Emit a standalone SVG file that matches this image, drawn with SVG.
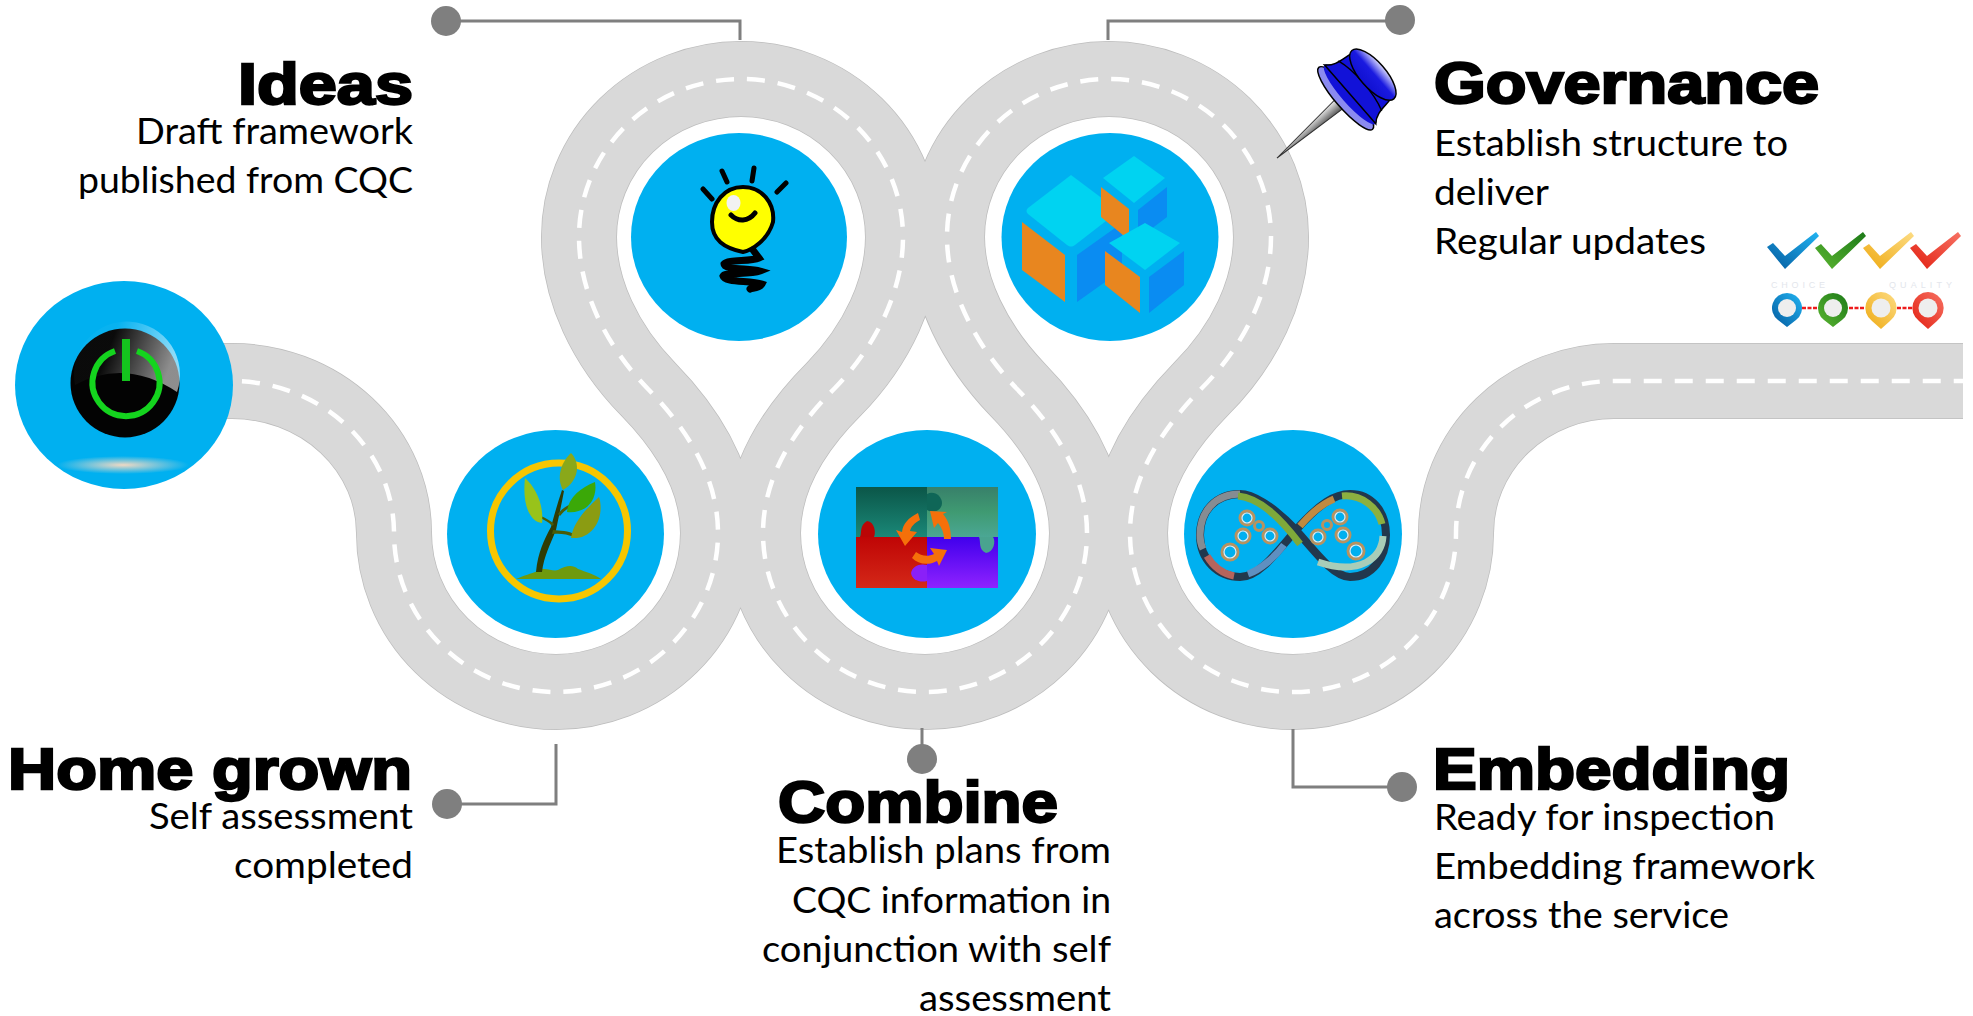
<svg xmlns="http://www.w3.org/2000/svg" width="1973" height="1016" viewBox="0 0 1973 1016">
<style>
.rd{fill:none;stroke-linejoin:round}
.blue{fill:#00b0f0}
.h{font-family:"Liberation Sans",Arial,sans-serif;font-weight:700;font-size:57px;fill:#000;stroke:#000;stroke-width:2.4px}
.b{font-family:Lato,"Noto Sans",sans-serif;font-size:37px;fill:#000}
.cn{fill:none;stroke:#7f7f7f;stroke-width:3}
.dot{fill:#7f7f7f}
.cap{font-family:"Liberation Sans",Arial,sans-serif;font-size:9px;fill:#e3e6ec}
.ray{fill:none;stroke:#000;stroke-linecap:round}
.arw{fill:#f5700a}
.gear{fill:none;stroke:#b8925f;stroke-width:3}
.gearin{fill:none;stroke:#e6ebf0;stroke-width:1.2}
.inner{fill:#eeeeee}
.pd{fill:none;stroke:#ee1c1c;stroke-width:2.5;stroke-dasharray:4 1.5}
</style>
<defs>
<radialGradient id="glow"><stop offset="0" stop-color="#f0d9c4"/><stop offset="1" stop-color="#f0d9c4" stop-opacity="0"/></radialGradient>
<linearGradient id="gloss" x1="0" x2="1" y1="0" y2="0.25"><stop offset="0.4" stop-color="#fff" stop-opacity="0.03"/><stop offset="1" stop-color="#fff" stop-opacity="0.55"/></linearGradient>
<linearGradient id="pTL" x1="0" x2="0" y1="0" y2="1"><stop offset="0" stop-color="#0b5648"/><stop offset="1" stop-color="#1a8878"/></linearGradient>
<linearGradient id="pTR" x1="0" x2="0" y1="0" y2="1"><stop offset="0" stop-color="#38806a"/><stop offset="0.5" stop-color="#3f9a72"/><stop offset="1" stop-color="#4ba794"/></linearGradient>
<linearGradient id="pBL" x1="0" x2="0" y1="0" y2="1"><stop offset="0" stop-color="#bf0505"/><stop offset="1" stop-color="#d42818"/></linearGradient>
<linearGradient id="pBR" x1="0" x2="0" y1="0" y2="1"><stop offset="0" stop-color="#4000ec"/><stop offset="1" stop-color="#8f22ff"/></linearGradient>
<linearGradient id="capg" x1="0" x2="1" y1="0" y2="0"><stop offset="0" stop-color="#1010d0"/><stop offset="0.55" stop-color="#1a1ae0"/><stop offset="1" stop-color="#d8d8ff"/></linearGradient>
<linearGradient id="ck1" x1="0" x2="1" y1="1" y2="0"><stop offset="0" stop-color="#045a9e"/><stop offset="1" stop-color="#21b4f2"/></linearGradient>
<linearGradient id="ck2" x1="0" x2="1" y1="1" y2="0"><stop offset="0" stop-color="#5cb531"/><stop offset="1" stop-color="#1c7a18"/></linearGradient>
<linearGradient id="ck3" x1="0" x2="1" y1="1" y2="0"><stop offset="0" stop-color="#eea910"/><stop offset="1" stop-color="#fddc84"/></linearGradient>
<linearGradient id="ck4" x1="0" x2="1" y1="1" y2="0"><stop offset="0" stop-color="#e21f10"/><stop offset="1" stop-color="#f77264"/></linearGradient>
<linearGradient id="needle" x1="0" x2="0" y1="0" y2="1"><stop offset="0" stop-color="#eeeeee"/><stop offset="1" stop-color="#555"/></linearGradient>
<path id="roadpath" d="M180 381H232A162 152 0 0 1 394 533A162 159 0 0 0 718 533C718 480 690 432 648 389C605 345 579 290 579 237A162 158 0 0 1 903 237C903 290 877 345 834 389C791 432 763 480 763 533A162 159 0 0 0 1087 533C1087 480 1059 432 1017 389C975 345 947 290 947 237A162 158 0 0 1 1271 237C1271 290 1245 345 1201 389C1159 432 1130 480 1130 533A163 159 0 0 0 1456 533A158 152 0 0 1 1614 381H1963"/>
</defs>
<rect width="1973" height="1016" fill="#fff"/>

<g id="road">
<use href="#roadpath" class="rd" stroke="#bdbdbd" stroke-width="76"/>
<use href="#roadpath" class="rd" stroke="#d9d9d9" stroke-width="74.5"/>
<use href="#roadpath" class="rd" stroke="#fff" stroke-width="4.5" stroke-dasharray="18 13"/>
</g>

<g id="connectors">
<path class="cn" d="M446 21H740V40"/>
<path class="cn" d="M1400 21H1108V40"/>
<path class="cn" d="M447 804H556V744"/>
<path class="cn" d="M922 759V728"/>
<path class="cn" d="M1402 787H1293V729"/>
<ellipse class="dot" cx="446" cy="21" rx="15" ry="15"/>
<ellipse class="dot" cx="1400" cy="20" rx="15" ry="15"/>
<ellipse class="dot" cx="447" cy="804" rx="15" ry="15"/>
<ellipse class="dot" cx="922" cy="759" rx="15" ry="15"/>
<ellipse class="dot" cx="1402" cy="787" rx="15" ry="15"/>
</g>

<g id="node-start">
<ellipse class="blue" cx="124" cy="385" rx="109" ry="104"/>
<ellipse cx="123" cy="465" rx="66" ry="9" fill="url(#glow)"/>
<circle cx="125" cy="383" r="54.5" fill="#030303"/>
<path d="M75 385Q125 358 177 392A53 53 0 1 0 75 385Z" fill="url(#gloss)"/>
<path d="M115 351A33.5 33.5 0 1 0 137 351" fill="none" stroke="#14d41e" stroke-width="6"/>
<rect x="122" y="339" width="8" height="42" fill="#14c41e"/>
</g>

<g id="node-home-grown">
<ellipse class="blue" cx="555.5" cy="534" rx="108.5" ry="104"/>
<ellipse cx="559" cy="531" rx="68.5" ry="68" fill="none" stroke="#f7c600" stroke-width="7"/>
<path d="M516 579C525 575 530 574 538 571C544 566 552 572 558 570C566 566 572 564 578 569C586 572 594 574 601 579Z" fill="#6f9a0e"/>
<path d="M536 572C538 552 544 540 551 527C554 516 557 505 562 490L564 491C561 507 558 520 556 530C550 545 544 556 542 572Z" fill="#2f3c05"/>
<path d="M553 530C560 531 568 530 576 535L575 537C566 534 560 533 552 534ZM552 526C549 522 544 520 540 518L541 516C546 518 551 521 554 524ZM558 514C562 508 568 505 574 503L575 505C569 507 564 511 560 516Z" fill="#4a5c08"/>
<path d="M525 478C536 488 544 505 542 523C530 522 522 505 525 478Z" fill="#98c31a"/>
<path d="M571 453C580 462 580 480 563 490C556 478 561 462 571 453Z" fill="#8aa81a"/>
<path d="M595 482C598 500 586 514 567 512C568 498 580 488 595 482Z" fill="#3ba808"/>
<path d="M599 497C605 516 594 540 571 538C573 522 587 508 599 497Z" fill="#8b9c12"/>
</g>

<g id="node-ideas">
<ellipse class="blue" cx="739" cy="237" rx="108" ry="104"/>
<path d="M743 187C724 187 712 203 712 222C712 240 724 248 743 252C752 250 768 240 773 222C775 203 762 187 743 187Z" fill="#ffff00" stroke="#000" stroke-width="4"/>
<ellipse cx="733.5" cy="203" rx="7" ry="8" fill="#f2f2f2"/>
<path class="ray" stroke-width="5" d="M703 189L712 199M722 171L727 182M754 168L752 181M786 183L777 192M731 215C738 222 748 222 755 213"/>
<path class="ray" stroke-width="7" d="M753 250L759 258C750 262 728 259 724 264C724 270 750 268 760 271C750 275 725 272 723 276C725 283 750 280 762 284C760 288 752 288 750 289"/>
</g>

<g id="node-combine">
<ellipse class="blue" cx="927" cy="534" rx="109" ry="104"/>
<rect x="856" y="487" width="71" height="50" fill="url(#pTL)"/>
<rect x="927" y="487" width="71" height="50" fill="url(#pTR)"/>
<rect x="856" y="537" width="71" height="51" fill="url(#pBL)"/>
<rect x="927" y="537" width="71" height="51" fill="url(#pBR)"/>
<path d="M927 494C934 490 942 496 942 503C942 510 934 514 927 510Z" fill="#0f6657"/>
<path d="M860 537C862 533 859 526 867 521C875 522 876 533 874 537Z" fill="#ba0505"/>
<path d="M979 537C981 541 978 550 986 553C994 552 996 541 993 537Z" fill="#49a38f"/>
<path d="M927 565C920 563 912 566 911 573C912 580 920 583 927 581Z" fill="#8a20f8"/>
<path class="arw" d="M918 513C908 518 903 524 902 532L896 530L905 546L917 532L910 531C911 527 914 523 920 520Z"/>
<path class="arw" d="M951 539C951 530 949 521 943 514L947 512L930 511L934 528L938 523C942 528 944 533 944 539Z"/>
<path class="arw" d="M912 558C918 564 928 566 937 561L939 566L947 550L930 548L934 554C928 557 921 556 916 552Z"/>
</g>

<g id="node-governance">
<ellipse class="blue" cx="1110" cy="237" rx="108.5" ry="104"/>
<path fill="#00d3f1" d="M1071 175L1115 208Q1118 211 1115 214L1075 245Q1071 248 1067 245L1028 214Q1025 211 1028 208Z"/>
<path fill="#e8861f" d="M1022 222L1065 255V302L1022 270Z"/>
<path fill="#0a8cf2" d="M1077 255L1122 223V270L1077 302Z"/>
<path fill="#00d3f1" d="M1134 156L1165 178L1134 203L1103 178Z"/>
<path fill="#0a8cf2" d="M1138 210L1167 187V217L1138 239Z"/>
<path fill="#e8861f" d="M1101 187L1129 209V240L1101 217Z"/>
<path fill="#00d3f1" d="M1145 223L1180 243L1145 270L1109 243Z"/>
<path fill="#e8861f" d="M1105 251L1140 277V313L1105 285Z"/>
<path fill="#0a8cf2" d="M1149 277L1184 251V285L1149 313Z"/>
</g>

<g id="node-embedding">
<ellipse class="blue" cx="1293" cy="534" rx="109" ry="104"/>
<path fill="none" stroke="#22384d" stroke-width="8" d="M1296 530C1272 505 1252 494 1240 494C1215 494 1200 512 1200 535C1200 560 1218 577 1240 577C1258 577 1275 555 1296 530C1320 503 1335 494 1350 494C1372 494 1386 512 1386 535C1386 558 1372 577 1350 577C1335 577 1320 558 1296 530Z"/>
<g fill="none" stroke-width="7">
<path stroke="#868c92" d="M1240 494C1215 494 1200 512 1200 535C1200 540 1201 545 1203 549"/>
<path stroke="#b5645c" d="M1207 556C1214 568 1224 574 1234 576"/>
<path stroke="#5f8fc0" d="M1248 574C1260 570 1275 557 1284 545"/>
<path stroke="#c08a40" d="M1300 526C1312 512 1324 503 1334 499"/>
<path stroke="#8cb040" d="M1342 496C1362 494 1378 508 1382 524"/>
<path stroke="#a8cdb8" d="M1383 536C1382 558 1360 576 1318 562"/>
<path stroke="#7fa93a" d="M1238 496C1260 498 1280 518 1300 544"/>
</g>
<g class="gear"><circle cx="1247" cy="518" r="7"/><circle cx="1259" cy="526" r="4.5"/><circle cx="1243" cy="536" r="7"/><circle cx="1270" cy="536" r="7"/><circle cx="1230" cy="552" r="8"/><circle cx="1340" cy="517" r="7"/><circle cx="1327" cy="525" r="4.5"/><circle cx="1343" cy="535" r="7"/><circle cx="1318" cy="537" r="7"/><circle cx="1356" cy="551" r="8"/></g>
<g class="gearin"><circle cx="1247" cy="518" r="5"/><circle cx="1243" cy="536" r="5"/><circle cx="1270" cy="536" r="5"/><circle cx="1230" cy="552" r="6"/><circle cx="1340" cy="517" r="5"/><circle cx="1343" cy="535" r="5"/><circle cx="1318" cy="537" r="5"/><circle cx="1356" cy="551" r="6"/></g>
</g>

<g id="pushpin" transform="translate(1277 158) rotate(-41)">
<path d="M0 0L82 -6V6Z" fill="url(#needle)" stroke="#333" stroke-width="1"/>
<ellipse cx="91" cy="0" rx="10" ry="41" fill="#8a8af0" stroke="#000" stroke-width="1.5"/>
<ellipse cx="97" cy="0" rx="9" ry="39" fill="#1212d8"/>
<path d="M97 -39C104 -31 114 -32 125 -30V30C114 32 104 31 97 39Z" fill="#1212d8" stroke="#000" stroke-width="1.5"/>
<path d="M110 -33C116 -15 116 15 110 33" fill="none" stroke="#000" stroke-width="1.5"/>
<ellipse cx="127" cy="0" rx="13" ry="32" fill="url(#capg)" stroke="#000" stroke-width="1.5"/>
</g>

<g id="quality-marks">
<path fill="url(#ck1)" d="M1767 247L1773 243L1785 256L1816 232L1819 236L1785 269Z"/>
<path fill="url(#ck2)" d="M1815 248L1821 244L1832 256L1863 232L1866 236L1832 269Z"/>
<path fill="url(#ck3)" d="M1863 248L1869 244L1880 256L1911 232L1914 236L1880 269Z"/>
<path fill="url(#ck4)" d="M1910 248L1916 244L1927 256L1958 232L1961 236L1927 269Z"/>
<text class="cap" x="1771" y="288" textLength="54">CHOICE</text>
<text class="cap" x="1889" y="288" textLength="63">QUALITY</text>
<path class="pd" d="M1802 308H1818M1849 308H1865M1897 308H1912"/>
<path fill="url(#ck1)" d="M1787 293A15 15 0 0 1 1796 320L1787 327L1778 320A15 15 0 0 1 1787 293Z"/>
<path fill="url(#ck2)" d="M1833 293A15 15 0 0 1 1842 320L1833 327L1824 320A15 15 0 0 1 1833 293Z"/>
<path fill="url(#ck3)" d="M1881 292A16 16 0 0 1 1890 321L1881 329L1872 321A16 16 0 0 1 1881 292Z"/>
<path fill="url(#ck4)" d="M1928 292A16 16 0 0 1 1937 321L1928 329L1919 321A16 16 0 0 1 1928 292Z"/>
<circle class="inner" cx="1787" cy="308" r="9"/><circle class="inner" cx="1833" cy="308" r="9"/><circle class="inner" cx="1881" cy="308" r="9.5"/><circle class="inner" cx="1928" cy="308" r="9.5"/>
</g>

<g id="label-ideas">
<text class="h" x="238" y="104" textLength="175" lengthAdjust="spacingAndGlyphs">Ideas</text>
<text class="b" x="136" y="144" textLength="277" lengthAdjust="spacingAndGlyphs">Draft framework</text>
<text class="b" x="78" y="193" textLength="335" lengthAdjust="spacingAndGlyphs">published from CQC</text>
</g>
<g id="label-governance">
<text class="h" x="1434" y="103" textLength="385" lengthAdjust="spacingAndGlyphs">Governance</text>
<text class="b" x="1434" y="156" textLength="354" lengthAdjust="spacingAndGlyphs">Establish structure to</text>
<text class="b" x="1434" y="205" textLength="115" lengthAdjust="spacingAndGlyphs">deliver</text>
<text class="b" x="1434" y="254" textLength="272" lengthAdjust="spacingAndGlyphs">Regular updates</text>
</g>
<g id="label-home-grown">
<text class="h" x="8" y="789" textLength="404" lengthAdjust="spacingAndGlyphs">Home grown</text>
<text class="b" x="149" y="829" textLength="264" lengthAdjust="spacingAndGlyphs">Self assessment</text>
<text class="b" x="234" y="878" textLength="179" lengthAdjust="spacingAndGlyphs">completed</text>
</g>
<g id="label-combine">
<text class="h" x="778" y="822" textLength="280" lengthAdjust="spacingAndGlyphs">Combine</text>
<text class="b" x="776" y="863" textLength="335" lengthAdjust="spacingAndGlyphs">Establish plans from</text>
<text class="b" x="792" y="913" textLength="319" lengthAdjust="spacingAndGlyphs">CQC information in</text>
<text class="b" x="762" y="962" textLength="349" lengthAdjust="spacingAndGlyphs">conjunction with self</text>
<text class="b" x="919" y="1011" textLength="192" lengthAdjust="spacingAndGlyphs">assessment</text>
</g>
<g id="label-embedding">
<text class="h" x="1433" y="789" textLength="357" lengthAdjust="spacingAndGlyphs">Embedding</text>
<text class="b" x="1434" y="830" textLength="341" lengthAdjust="spacingAndGlyphs">Ready for inspection</text>
<text class="b" x="1434" y="879" textLength="381" lengthAdjust="spacingAndGlyphs">Embedding framework</text>
<text class="b" x="1434" y="928" textLength="295" lengthAdjust="spacingAndGlyphs">across the service</text>
</g>
</svg>
